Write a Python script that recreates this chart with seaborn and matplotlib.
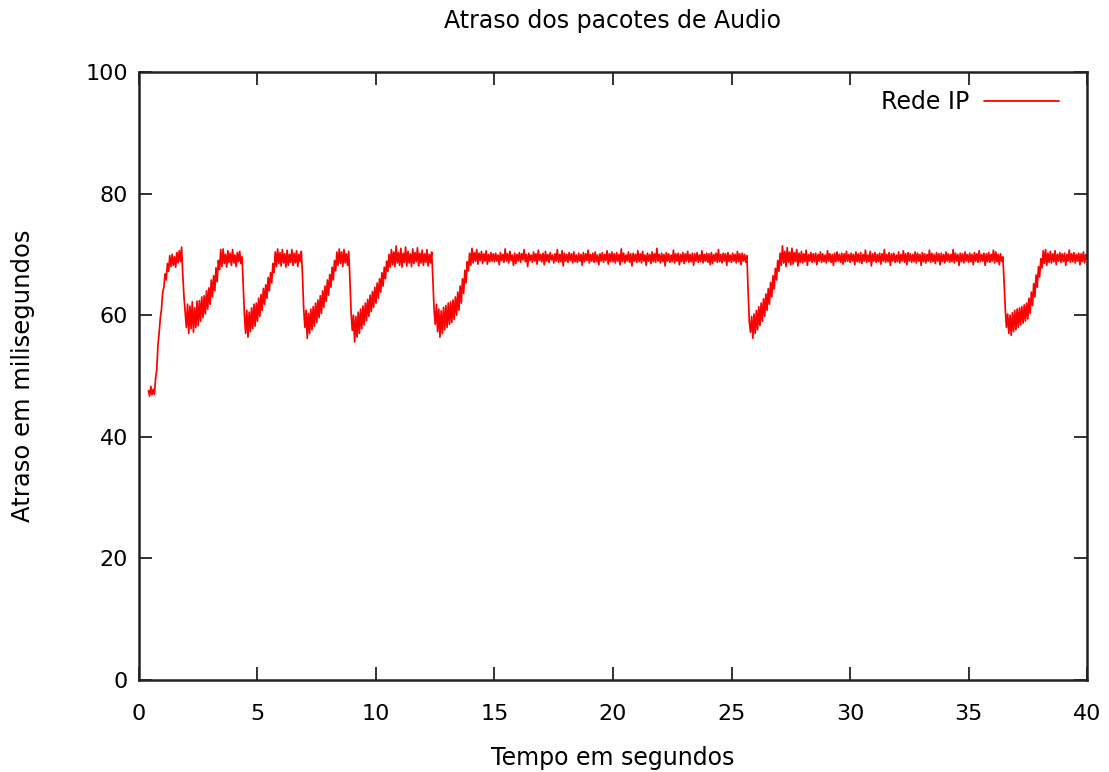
import numpy as np
import pandas as pd
import matplotlib
matplotlib.use("Agg")
import matplotlib.pyplot as plt
import seaborn as sns

# delay readings (ms), one sample every 0.05 s
delay_00_05 = [  # 0.40 .. 4.95 s
    47.6, 46.7, 48.3, 46.9, 47.8, 47.0, 49.5, 51.0, 55.0, 57.0,
    59.5, 61.0, 63.8, 64.5, 66.8, 65.8, 68.5, 67.2, 69.8, 68.0,
    70.0, 68.2, 69.6, 67.9, 70.3, 68.6, 70.6, 68.8, 71.2, 66.5,
    63.0, 60.5, 58.0, 61.8, 57.0, 61.5, 57.8, 62.2, 57.2, 61.2,
    58.0, 62.3, 58.3, 62.4, 59.0, 63.0, 59.6, 63.2, 60.2, 64.0,
    61.0, 64.5, 61.8, 65.8, 63.0, 66.5, 64.0, 67.8, 65.5, 69.0,
    67.5, 70.8, 68.0, 70.9, 68.5, 70.0, 67.9, 70.6, 68.7, 70.2,
    68.2, 70.8, 68.6, 69.9, 68.0, 70.3, 68.8, 70.5, 68.5, 69.6,
    65.0, 60.0, 57.0, 60.8, 56.4, 60.5, 57.3, 61.2, 57.8, 61.8,
    58.2, 62.0,
]
delay_05_10 = [
    59.0, 62.8, 59.8, 63.4, 60.8, 64.4, 61.8, 65.0, 62.8, 66.2,
    64.0, 67.0, 65.3, 68.5, 67.0, 70.4, 68.0, 70.9, 68.5, 70.3,
    68.1, 70.8, 68.6, 70.1, 67.9, 70.7, 68.2, 70.0, 68.7, 70.8,
    68.2, 70.2, 68.6, 70.6, 68.0, 70.0, 68.8, 70.5, 66.5, 61.0,
    58.0, 60.8, 56.2, 60.3, 57.0, 61.0, 57.6, 61.4, 58.2, 62.0,
    58.8, 62.5, 59.6, 63.2, 60.3, 64.0, 61.3, 64.8, 62.3, 65.8,
    63.3, 66.7, 64.6, 67.9, 65.8, 69.0, 67.3, 70.4, 68.2, 70.9,
    68.5, 70.4, 68.0, 70.8, 68.6, 70.1, 68.2, 70.5, 66.0, 60.5,
    57.5, 60.0, 55.6, 59.8, 56.4, 60.5, 57.0, 61.0, 57.8, 61.5,
    58.4, 62.0, 59.1, 62.6, 59.8, 63.3, 60.6, 63.9, 61.3, 64.6,
]
delay_10_15 = [
    62.0, 65.3, 62.8, 66.0, 63.8, 67.0, 64.8, 67.9, 66.0, 68.9,
    67.2, 70.0, 67.9, 70.8, 68.3, 70.4, 68.0, 71.4, 68.6, 70.3,
    68.2, 71.0, 67.9, 70.2, 68.7, 71.2, 68.1, 70.5, 68.6, 70.1,
    68.0, 70.9, 68.5, 70.3, 68.8, 71.1, 68.1, 70.2, 68.6, 70.7,
    68.2, 70.1, 68.7, 70.8, 68.1, 70.0, 68.6, 70.4, 66.0, 61.0,
    58.5, 61.8, 57.3, 61.0, 56.4, 60.7, 57.0, 61.3, 57.6, 61.6,
    58.0, 62.0, 58.5, 62.2, 58.8, 62.5, 59.3, 63.0, 60.0, 63.8,
    60.8, 64.8, 62.0, 66.0, 63.6, 67.4, 65.3, 68.8, 67.3, 70.2,
    68.2, 71.0, 68.6, 70.3, 68.9, 70.8, 68.4, 70.2, 69.0, 70.5,
    68.5, 70.1, 68.9, 70.6, 68.4, 70.0, 68.8, 70.3, 68.9, 70.1,
]
delay_15_20 = [
    68.8, 70.2, 68.9, 69.9, 68.3, 70.3, 69.0, 70.0, 68.7, 70.9,
    68.9, 70.1, 68.6, 70.5, 69.0, 69.9, 68.2, 70.2, 68.5, 70.0,
    68.9, 70.3, 68.7, 70.1, 69.1, 70.8, 68.8, 70.0, 68.0, 70.2,
    69.0, 69.9, 68.7, 70.4, 68.9, 70.1, 68.4, 70.7, 69.0, 70.0,
    68.8, 70.2, 68.3, 70.5, 68.9, 70.0, 68.7, 70.3, 69.1, 69.9,
    68.6, 70.1, 68.9, 70.8, 68.7, 70.0, 68.8, 70.6, 68.1, 70.2,
    68.9, 70.0, 68.7, 70.3, 69.0, 70.1, 68.6, 70.4, 68.8, 69.9,
    68.7, 70.2, 68.9, 70.0, 68.2, 70.3, 68.8, 70.1, 69.0, 70.7,
    68.6, 70.0, 68.9, 70.2, 68.7, 70.4, 68.8, 69.9, 68.3, 70.1,
    68.9, 70.3, 68.7, 70.0, 69.0, 70.6, 68.4, 70.1, 68.8, 70.4,
]
delay_20_25 = [
    68.8, 70.1, 68.6, 70.3, 68.9, 70.0, 68.3, 70.9, 68.8, 70.2,
    68.6, 69.9, 68.9, 70.4, 68.7, 70.1, 68.1, 70.2, 68.9, 70.0,
    68.7, 70.6, 68.8, 70.1, 68.6, 70.5, 68.9, 69.9, 68.2, 70.2,
    68.9, 70.0, 68.5, 70.4, 68.8, 70.1, 68.7, 71.0, 68.9, 70.0,
    68.6, 70.2, 68.8, 70.0, 68.1, 70.3, 68.9, 70.1, 68.7, 69.9,
    68.8, 70.7, 68.6, 70.1, 68.9, 70.2, 68.3, 70.0, 68.8, 70.3,
    68.5, 70.1, 68.9, 70.5, 68.7, 70.0, 68.8, 70.2, 68.2, 70.1,
    68.9, 70.3, 68.7, 69.9, 68.8, 70.6, 68.6, 70.0, 68.9, 70.2,
    68.7, 70.1, 68.3, 70.3, 68.5, 70.0, 68.9, 70.2, 68.7, 70.8,
    68.8, 70.0, 68.6, 70.2, 68.9, 70.1, 68.2, 70.3, 68.8, 69.9,
]
delay_25_30 = [
    68.7, 70.2, 68.9, 70.0, 68.6, 70.5, 68.8, 70.1, 68.3, 70.2,
    68.9, 70.0, 68.7, 69.8, 64.0, 59.0, 57.2, 59.8, 56.2, 60.2,
    57.0, 60.8, 57.6, 61.4, 58.3, 62.0, 59.0, 62.7, 59.8, 63.5,
    60.8, 64.4, 61.8, 65.4, 63.0, 66.5, 64.3, 67.7, 65.8, 69.0,
    67.2, 70.2, 68.2, 71.4, 68.6, 70.5, 68.0, 71.1, 68.7, 70.4,
    68.3, 71.0, 68.4, 70.3, 68.8, 70.8, 68.1, 70.2, 68.7, 70.5,
    68.6, 70.1, 68.8, 70.7, 68.2, 70.0, 68.9, 70.3, 68.7, 70.1,
    68.8, 70.2, 68.3, 70.0, 68.9, 70.4, 68.7, 70.1, 68.8, 69.9,
    68.6, 70.6, 68.9, 70.1, 68.7, 70.0, 68.2, 70.2, 68.8, 70.4,
    68.9, 70.0, 68.7, 70.2, 68.4, 70.1, 68.8, 70.5, 68.9, 70.0,
]
delay_30_35 = [
    68.7, 70.2, 68.9, 70.0, 68.3, 70.4, 68.8, 70.1, 68.7, 70.3,
    68.5, 70.0, 68.9, 70.7, 68.7, 69.9, 68.8, 70.5, 68.1, 70.1,
    68.9, 70.3, 68.7, 70.0, 68.8, 70.2, 68.4, 70.1, 68.9, 70.8,
    68.7, 70.0, 68.8, 70.3, 68.2, 70.1, 68.9, 70.2, 68.7, 69.9,
    68.8, 70.4, 68.6, 70.0, 68.9, 70.6, 68.7, 70.1, 68.3, 70.3,
    68.9, 70.1, 68.7, 70.0, 68.8, 70.4, 68.6, 70.2, 68.9, 70.0,
    68.2, 70.3, 68.8, 70.1, 68.6, 70.0, 68.9, 70.7, 68.7, 70.2,
    68.8, 70.0, 68.5, 70.3, 68.9, 70.1, 68.3, 70.2, 68.8, 70.0,
    68.6, 70.4, 68.9, 70.1, 68.7, 70.0, 68.8, 70.8, 68.6, 70.2,
    68.9, 70.0, 68.2, 70.2, 68.8, 70.1, 68.6, 70.4, 68.9, 70.0,
]
delay_35_40 = [  # 35.00 .. 40.00 s
    68.7, 70.2, 68.8, 70.0, 68.3, 70.3, 68.9, 70.1, 68.7, 70.6,
    68.8, 70.0, 68.9, 70.2, 68.2, 70.1, 68.8, 70.3, 68.7, 70.0,
    68.9, 70.7, 68.6, 70.4, 68.8, 70.0, 68.3, 70.1, 68.9, 69.6,
    65.5, 61.0, 58.0, 60.2, 57.0, 60.0, 56.7, 60.4, 57.3, 60.8,
    57.6, 61.0, 58.0, 61.2, 58.4, 61.4, 58.7, 61.7, 59.0, 62.0,
    59.4, 62.8, 60.3, 63.8, 61.6, 65.2, 63.0, 66.6, 64.6, 68.0,
    66.3, 69.3, 67.8, 70.6, 68.5, 70.8, 68.2, 70.2, 68.7, 70.5,
    68.6, 70.1, 68.8, 70.6, 68.3, 70.0, 68.9, 70.3, 68.7, 70.1,
    68.8, 70.2, 68.2, 70.0, 68.9, 70.7, 68.7, 70.1, 68.8, 70.3,
    68.6, 70.0, 68.9, 70.2, 68.3, 70.1, 68.8, 70.4, 68.6, 70.0,
    69.2,
]

delay = (delay_00_05 + delay_05_10 + delay_10_15 + delay_15_20 +
         delay_20_25 + delay_25_30 + delay_30_35 + delay_35_40)
# sampling instants: 0.40 s onward, every 0.05 s
tempo = np.round(0.4 + 0.05 * np.arange(len(delay)), 2)

df = pd.DataFrame({"Tempo": tempo, "Atraso": delay, "serie": "Rede IP"})

sns.set_style("ticks")
plt.rcParams["font.family"] = ["DejaVu Sans"]
plt.rcParams["text.color"] = "black"
plt.rcParams["axes.labelcolor"] = "black"
plt.rcParams["xtick.color"] = "black"
plt.rcParams["ytick.color"] = "black"

fig = plt.figure(figsize=(11.09, 7.72), dpi=100)
ax = fig.add_axes([0.1253, 0.1192, 0.8549, 0.7875])

sns.lineplot(data=df, x="Tempo", y="Atraso", hue="serie", palette=["#ff0000"],
             estimator=None, sort=False, linewidth=1.25, ax=ax)

ax.set_xlim(0, 40)
ax.set_ylim(0, 100)
ax.set_xticks(range(0, 41, 5))
ax.set_yticks(range(0, 101, 20))

ax.tick_params(direction="in", length=9.5, width=1.3, labelsize=16,
               top=True, right=True, color="#222222")
ax.tick_params(axis="x", pad=17)
ax.tick_params(axis="y", pad=8)
for s in ax.spines.values():
    s.set_linewidth(1.8)
    s.set_color("#222222")

ax.set_xlabel("Tempo em segundos", fontsize=17, labelpad=16)
ax.set_ylabel("Atraso em milisegundos", fontsize=17.5, labelpad=36)
fig.text(0.5525, 0.973, "Atraso dos pacotes de Audio", ha="center", va="center",
         fontsize=17)

leg = ax.legend(loc="upper right", bbox_to_anchor=(0.988, 0.997), frameon=False,
                fontsize=17, markerfirst=False, handlelength=3.2,
                handletextpad=0.6, borderaxespad=0.3)
for h in leg.get_lines():
    h.set_linewidth(1.3)

fig.savefig("out.png", dpi=100)
